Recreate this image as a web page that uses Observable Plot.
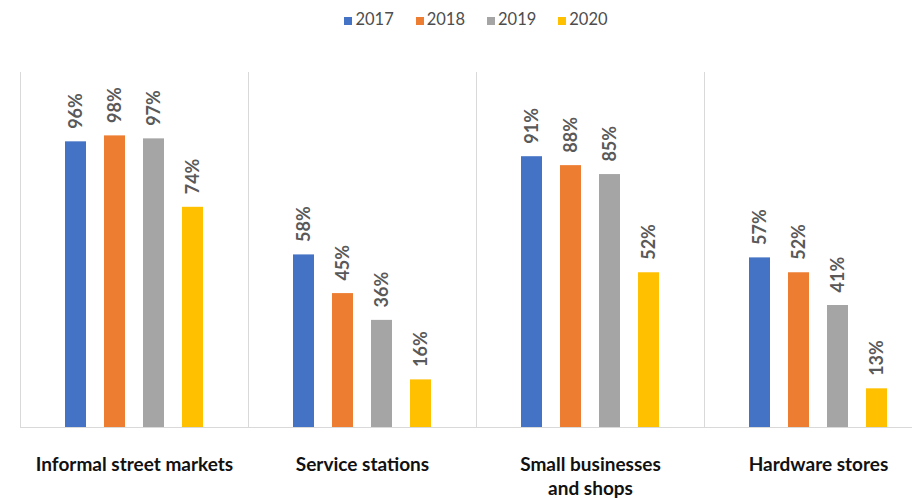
<!DOCTYPE html>
<html>
<head>
<meta charset="utf-8">
<script src="https://cdn.jsdelivr.net/npm/d3@7"></script>
<script src="https://cdn.jsdelivr.net/npm/@observablehq/plot@0.6"></script>
<style>
  html, body { margin: 0; padding: 0; background: #fff; }
  body { width: 912px; height: 500px; overflow: hidden; font-family: Lato, sans-serif; }
  #legend { height: 38px; display: flex; justify-content: center; align-items: center; gap: 22px; font-size: 16.5px; color: #4d4d4d; padding-left: 40px; box-sizing: border-box; }
  #legend .item { display: flex; align-items: center; }
  #legend .sw { width: 8px; height: 8px; margin-right: 3px; margin-top: 3px; }
  #chart svg { display: block; }
</style>
</head>
<body>
<div id="legend"></div>
<div id="chart"></div>
<script>
const categories = ["Informal street markets", "Service stations", "Small businesses\nand shops", "Hardware stores"];
const years = ["2017", "2018", "2019", "2020"];
const values2017 = [96, 58, 91, 57];
const values2018 = [98, 45, 88, 52];
const values2019 = [97, 36, 85, 41];
const values2020 = [74, 16, 52, 13];
const colors = ["#4472C4", "#ED7D31", "#A5A5A5", "#FFC000"];

const series = [values2017, values2018, values2019, values2020];
const rows = [];
categories.forEach((c, i) => {
  years.forEach((y, j) => rows.push({category: c, year: y, value: series[j][i]}));
});

// legend
const legend = document.getElementById("legend");
years.forEach((y, j) => {
  const item = document.createElement("div");
  item.className = "item";
  const sw = document.createElement("span");
  sw.className = "sw";
  sw.style.background = colors[j];
  const t = document.createElement("span");
  t.textContent = y;
  item.appendChild(sw);
  item.appendChild(t);
  legend.appendChild(item);
});

const chart = Plot.plot({
  width: 912,
  height: 462,
  marginLeft: 20,
  marginRight: -20,
  marginTop: 34,
  marginBottom: 73,
  fx: {domain: categories, padding: 0, axis: null},
  x: {domain: years, paddingInner: 0.46, paddingOuter: 1.15, axis: null},
  y: {domain: [0, 119.3], axis: null},
  color: {domain: years, range: colors},
  style: {fontFamily: "Lato, sans-serif", background: "white", overflow: "visible"},
  marks: [
    Plot.frame({anchor: "left", stroke: "#d9d9d9"}),
    Plot.ruleY([0], {stroke: "#d9d9d9"}),
    Plot.barY(rows, {fx: "category", x: "year", y: "value", fill: "year"}),
    Plot.text(rows, {fx: "category", x: "year", y: "value", text: d => d.value + "%", rotate: -90, textAnchor: "start", dy: -13, fontSize: 18, fontWeight: "bold", fill: "#595959"}),
    Plot.text(categories, {fx: d => d, text: d => d, frameAnchor: "bottom", lineAnchor: "top", dy: 26, fontSize: 19, fontWeight: "bold", fill: "#111", lineHeight: 1.27})
  ]
});
document.getElementById("chart").appendChild(chart);
</script>
</body>
</html>
